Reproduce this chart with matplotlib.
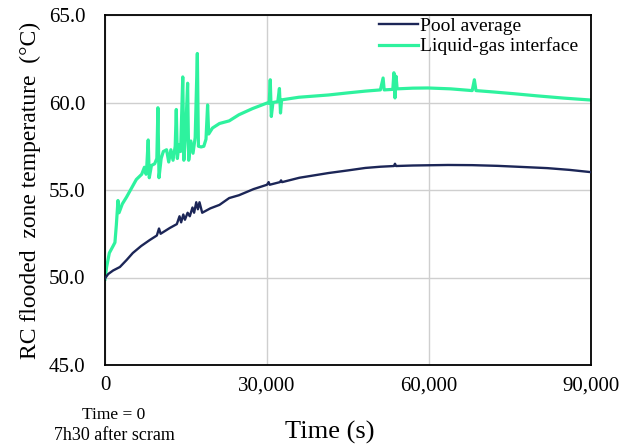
import matplotlib
matplotlib.use("Agg")
import matplotlib.pyplot as plt
from matplotlib.ticker import FuncFormatter

plt.rcParams['font.family'] = ['Liberation Serif', 'DejaVu Serif']

# Time (s) and temperature (°C)
pool_t = [0, 600, 1500, 2760, 4000, 5150, 6700, 8280, 9600, 10000, 10300, 12000,
          13300, 13800, 14100, 14500, 14800, 15300, 15700, 16200, 16500, 16900,
          17200, 17500, 18000, 19500, 21200, 23000, 24800, 27500, 30000, 30300,
          30500, 32400, 32600, 32800, 36000, 41400, 45000, 48200, 51000, 53500,
          53700, 53900, 57000, 63500, 68000, 72700, 77000, 81900, 86000, 90000]
pool_v = [49.95, 50.2, 50.4, 50.6, 51.0, 51.4, 51.8, 52.14, 52.4, 52.8, 52.5, 52.83,
          53.05, 53.5, 53.15, 53.6, 53.3, 53.7, 53.5, 54.0, 53.7, 54.3,
          53.9, 54.3, 53.7, 53.95, 54.15, 54.54, 54.7, 55.05, 55.3, 55.45,
          55.3, 55.45, 55.55, 55.45, 55.7, 55.97, 56.12, 56.26, 56.33, 56.37,
          56.5, 56.37, 56.4, 56.43, 56.42, 56.38, 56.32, 56.25, 56.15, 56.02]

intf_t = [0, 300, 800, 1500, 1840, 2100, 2400, 2600, 3200, 4000, 4900, 5800, 6800,
          7300, 7600, 7700, 8000, 8200, 8600, 9200, 9600, 9800, 10000, 10400, 10800,
          11400, 11800, 12200, 12600, 13000, 13200, 13400, 13700, 14000, 14400, 14600,
          14900, 15300, 15500, 15900, 16300, 16700, 17100, 17300, 17800, 18300, 18700,
          19000, 19200, 19900, 21200, 23000, 24800, 27300, 30000, 30400, 30600, 30800,
          31100, 32000, 32300, 32500, 32700, 35900, 41400, 45000, 48200, 51000, 51500,
          51700, 53300, 53500, 53700, 53900, 54100, 57000, 59800, 64000, 68000, 68400,
          68700, 72000, 75800, 80000, 85000, 90000]
intf_v = [49.9, 50.6, 51.4, 51.8, 52.0, 53.0, 54.4, 53.7, 54.2, 54.6, 55.1, 55.6, 55.9,
          56.3, 55.9, 56.14, 57.86, 55.7, 56.4, 56.5, 56.8, 59.7, 55.7, 56.8, 57.2,
          57.3, 56.6, 57.3, 56.7, 57.5, 59.6, 56.8, 57.6, 57.2, 61.46, 56.7,
          58.0, 61.1, 56.7, 57.8, 57.1, 58.0, 62.8, 57.5, 57.46, 57.5, 57.9,
          59.86, 58.2, 58.54, 58.8, 58.95, 59.3, 59.65, 59.97, 59.95, 61.3, 59.2,
          60.0, 60.05, 60.8, 59.4, 60.15, 60.3, 60.43, 60.55, 60.65, 60.72, 61.4,
          60.72, 60.75, 61.7, 60.26, 61.5, 60.78, 60.82, 60.83, 60.78, 60.68, 61.3,
          60.68, 60.6, 60.5, 60.38, 60.25, 60.14]

x_ticks = [0, 30000, 60000, 90000]
y_ticks = [45.0, 50.0, 55.0, 60.0, 65.0]

fig = plt.figure(figsize=(6.22, 4.45), dpi=100)
ax = fig.add_axes([105/622, 80/445, 486/622, 350/445])

ax.plot(pool_t, pool_v, color='#1C2657', lw=1.7, label='Pool average', zorder=3)
ax.plot(intf_t, intf_v, color='#2EF29E', lw=2.3, label='Liquid-gas interface', zorder=2)

ax.set_xlim(0, 90000)
ax.set_ylim(45, 65)
ax.set_xticks(x_ticks)
ax.set_yticks(y_ticks)
ax.xaxis.set_major_formatter(FuncFormatter(lambda v, p: f"{int(v):,}"))
ax.yaxis.set_major_formatter(FuncFormatter(lambda v, p: f"{v:.1f}"))
ax.tick_params(axis='both', length=0, labelsize=15)
ax.tick_params(axis='y', pad=14)
ax.tick_params(axis='x', pad=8)
ax.grid(True, color='#cfcfcf', lw=1.0)
ax.set_axisbelow(True)
for s in ax.spines.values():
    s.set_color('black')
    s.set_linewidth(1.3)

ax.set_ylabel('RC flooded  zone temperature  (°C)', fontsize=17, labelpad=6)
fig.text(330/622, 1 - 432/445, 'Time (s)', fontsize=19, ha='center', va='center')
fig.text(114/622, 1 - 415/445, 'Time = 0', fontsize=12.5, ha='center', va='center')
fig.text(114/622, 1 - 435/445, '7h30 after scram', fontsize=13, ha='center', va='center')

leg = ax.legend(loc='upper right', bbox_to_anchor=(578/622, 1 - 17/445),
                bbox_transform=fig.transFigure, frameon=False,
                fontsize=14, handlelength=2.0, handletextpad=0.1, labelspacing=0.15,
                borderaxespad=0.0, borderpad=0.0)

fig.savefig('out.png', dpi=100)
